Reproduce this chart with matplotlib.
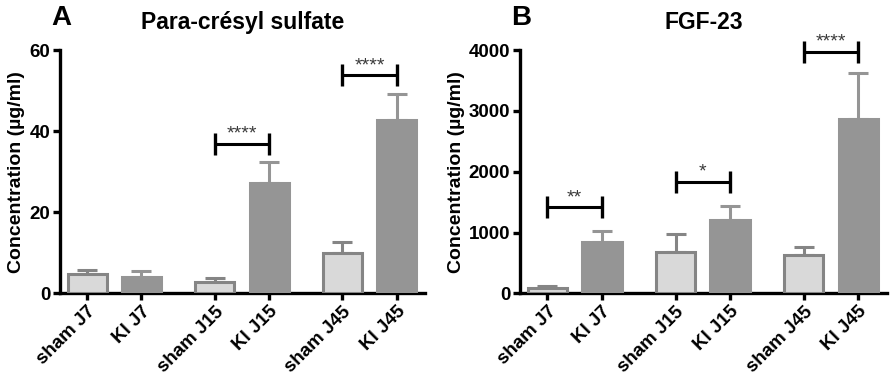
import numpy as np
import matplotlib
matplotlib.use("Agg")
import matplotlib.pyplot as plt

plt.rcParams['font.family'] = ['Liberation Sans', 'DejaVu Sans']
plt.rcParams['font.weight'] = 'bold'

groups = ['sham J7', 'KI J7', 'sham J15', 'KI J15', 'sham J45', 'KI J45']

pcs_mean = [4.7, 4.1, 2.9, 27.2, 9.9, 42.8]
pcs_err = [1.0, 1.4, 1.0, 5.3, 2.8, 6.4]
pcs_sig = [(2, 3, 36.9, '****'), (4, 5, 53.8, '****')]

fgf_mean = [90, 850, 685, 1205, 630, 2870]
fgf_err = [30, 180, 290, 235, 125, 750]
fgf_sig = [(0, 1, 1414, '**'), (2, 3, 1835, '*'), (4, 5, 3975, '****')]

SHAM_FACE = '#d9d9d9'
SHAM_EDGE = '#858585'
KI_COLOR = '#959595'

xpos = np.array([0, 1, 2.35, 3.35, 4.7, 5.7])


def draw_panel(ax, means, errs, sigs, ymax, yticks, title, tick_h):
    for i, (m, e) in enumerate(zip(means, errs)):
        sham = i % 2 == 0
        face = SHAM_FACE if sham else KI_COLOR
        edge = SHAM_EDGE if sham else KI_COLOR
        ax.bar(xpos[i], m, width=0.72, color=face, edgecolor=edge,
               linewidth=2.2, zorder=3)
        ax.errorbar(xpos[i], m, yerr=[[0], [e]], color=edge, elinewidth=2.2,
                    capsize=7, capthick=2.2, zorder=2)

    for a, b, y, stars in sigs:
        ax.plot([xpos[a], xpos[b]], [y, y], color='black', lw=2.2,
                clip_on=False, solid_capstyle='butt')
        for k in (a, b):
            ax.plot([xpos[k], xpos[k]], [y - tick_h, y + tick_h], color='black',
                    lw=2.4, clip_on=False, solid_capstyle='butt')
        ax.text((xpos[a] + xpos[b]) / 2, y + tick_h * 0.1, stars, ha='center',
                va='bottom', fontsize=14, color='#3a3a3a', fontweight='normal')

    ax.set_xlim(-0.5, 6.22)
    ax.set_ylim(0, ymax)
    ax.set_yticks(yticks)
    ax.set_xticks(xpos)
    ax.set_xticklabels(groups, rotation=45, ha='right', rotation_mode='anchor',
                       fontsize=13.5, fontweight='bold')
    for lab in ax.get_yticklabels():
        lab.set_fontsize(13.5)
        lab.set_fontweight('bold')
    ax.set_ylabel('Concentration (µg/ml)', fontsize=14, fontweight='bold',
                  labelpad=3)
    ax.spines['top'].set_visible(False)
    ax.spines['right'].set_visible(False)
    ax.spines['left'].set_linewidth(2.4)
    ax.spines['bottom'].set_linewidth(2.4)
    ax.tick_params(axis='both', direction='out', length=5, width=2.4, pad=2)
    ax.set_title(title, fontsize=16.5, fontweight='bold', pad=15)
    return ax


fig = plt.figure(figsize=(8.92, 3.77), dpi=100)
ax1 = fig.add_axes([0.0673, 0.222, 0.409, 0.645])
ax2 = fig.add_axes([0.583, 0.222, 0.411, 0.645])

draw_panel(ax1, pcs_mean, pcs_err, pcs_sig, 60, [0, 20, 40, 60],
           'Para-crésyl sulfate', 2.7)
draw_panel(ax2, fgf_mean, fgf_err, fgf_sig, 4000, [0, 1000, 2000, 3000, 4000],
           'FGF-23', 180)

fig.text(0.057, 0.952, 'A', fontsize=20, fontweight='bold', ha='left', va='center')
fig.text(0.573, 0.952, 'B', fontsize=20, fontweight='bold', ha='left', va='center')

fig.savefig('out.png', dpi=100)
